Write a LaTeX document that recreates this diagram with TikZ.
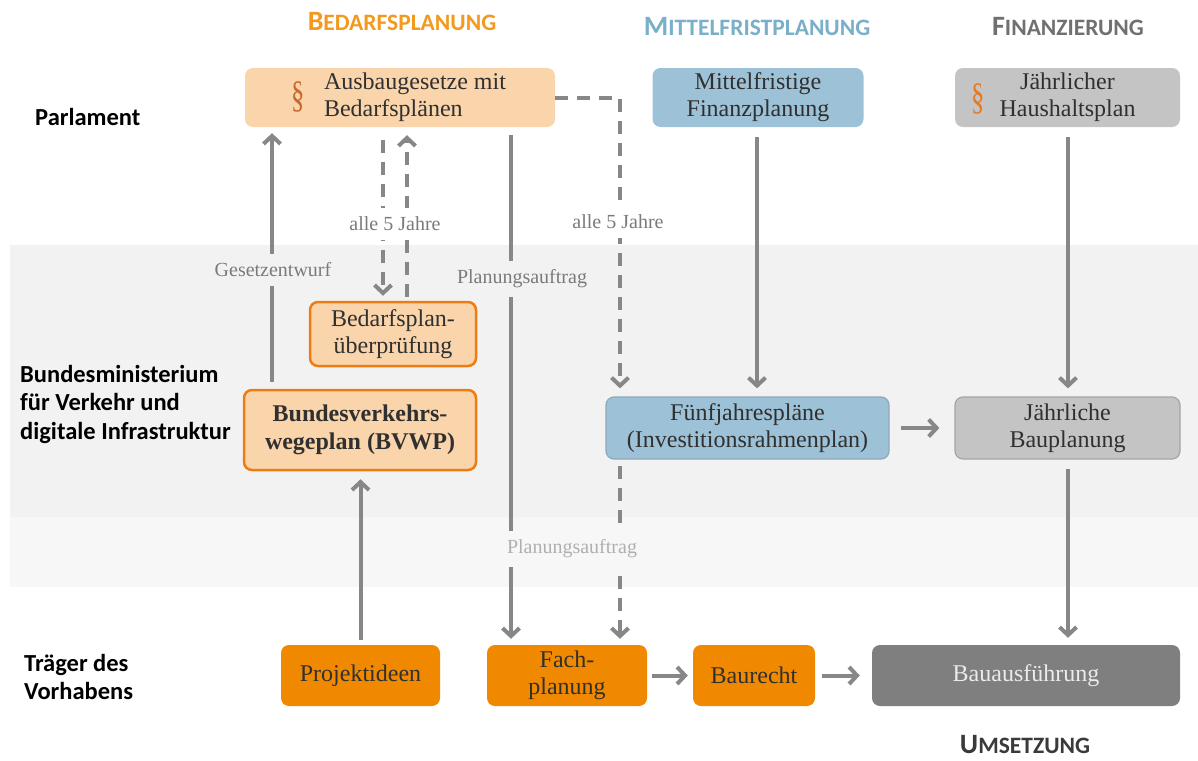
\documentclass[tikz,border=0pt]{standalone}
\usepackage{fontspec}
\setmainfont{Liberation Serif}
\newfontfamily\sansf{Carlito}
\usetikzlibrary{arrows.meta,calc}

\definecolor{lorange}{HTML}{FAD4AA}
\definecolor{orangeb}{HTML}{EE7D11}
\definecolor{orangef}{HTML}{F08800}
\definecolor{bluef}{HTML}{9DC1D6}
\definecolor{blueb}{HTML}{8FA9B8}
\definecolor{lgray}{HTML}{C4C4C4}
\definecolor{lgrayb}{HTML}{A5A5A5}
\definecolor{dgray}{HTML}{7F7F7F}
\definecolor{arr}{HTML}{878787}
\definecolor{bandA}{HTML}{F2F2F2}
\definecolor{bandB}{HTML}{F7F7F7}
\definecolor{txt}{HTML}{303030}
\definecolor{hOrange}{HTML}{F39A1E}
\definecolor{hBlue}{HTML}{79AFC9}
\definecolor{hGray}{HTML}{707070}
\definecolor{hDark}{HTML}{3A3A3A}
\definecolor{lbl}{HTML}{7A7A7A}
\definecolor{paraA}{HTML}{C46A2C}
\definecolor{paraB}{HTML}{E8781E}

\newcommand\hsc[2]{{\fontsize{28}{28}\selectfont #1}{\fontsize{23.5}{23.5}\selectfont #2}}

\tikzset{
  box/.style={rectangle, rounded corners=8pt, inner sep=0pt, align=center,
    text=txt, font=\fontsize{24}{27}\selectfont},
  conn/.style={draw=arr, line width=4pt, -{Straight Barb[length=8pt,width=17pt]}},
  dsh/.style={dash pattern=on 13pt off 9pt},
  lblnode/.style={inner xsep=2pt, inner ysep=9pt, text=lbl, font=\fontsize{20}{21}\selectfont},
  rowlab/.style={inner sep=0pt, align=left, text=black, font=\sansf\bfseries\fontsize{24.5}{28.5}\selectfont},
  hdr/.style={inner sep=0pt, font=\sansf\bfseries},
  para/.style={inner sep=0pt, font=\fontsize{38}{38}\selectfont}
}

\begin{document}
\begin{tikzpicture}[x=1pt,y=-1pt]
\useasboundingbox (0,0) rectangle (1198,760);
\fill[white] (0,0) rectangle (1198,760);
% bands
\fill[bandA] (10,245) rectangle (1198,517);
\fill[bandB] (10,517) rectangle (1198,587);

% headers
\node[hdr, text=hOrange] (h1) at (402,22) {\hsc{B}{EDARFSPLANUNG}};
\node[hdr, text=hBlue] (h2) at (757,27) {\hsc{M}{ITTELFRISTPLANUNG}};
\node[hdr, text=hGray] (h3) at (1068,27) {\hsc{F}{INANZIERUNG}};
\node[hdr, text=hDark] (h4) at (1025,745) {\hsc{U}{MSETZUNG}};

% row labels
\node[rowlab, anchor=west] (parl) at (35,117) {Parlament};
\node[rowlab, anchor=west] (bmv) at (20,404) {Bundesministerium\\für Verkehr und\\digitale Infrastruktur};
\node[rowlab, anchor=west] (trv) at (24,677) {Träger des\\Vorhabens};

% boxes
\node[box, fill=lorange, minimum width=310pt, minimum height=59pt] (ausbau) at (400,97.5)
  {\hspace*{30pt}\begin{tabular}{@{}l@{}}Ausbaugesetze mit\\Bedarfsplänen\end{tabular}};
\node[para, text=paraA] (p1) at (298,97) {\scalebox{0.7}[1]{§}};
\node[box, fill=bluef, minimum width=211pt, minimum height=59pt] (mittel) at (758,97.5)
  {Mittelfristige\\Finanzplanung};
\node[box, fill=lgray, minimum width=225pt, minimum height=59pt] (haus) at (1067.5,97.5)
  {Jährlicher\\Haushaltsplan};
\node[para, text=paraB] (p2) at (978,99) {\scalebox{0.7}[1]{§}};

\node[box, fill=lorange, draw=orangeb, line width=2.5pt, minimum width=166pt, minimum height=64pt] (bpu) at (393,334)
  {Bedarfsplan-\\überprüfung};
\node[box, fill=lorange, draw=orangeb, line width=2.5pt, minimum width=232pt, minimum height=80pt,
  font=\bfseries\fontsize{24}{28}\selectfont] (bvwp) at (360,430)
  {Bundesverkehrs-\\wegeplan (BVWP)};
\node[box, fill=bluef, draw=blueb, line width=1.2pt, minimum width=283pt, minimum height=62pt] (fuenf) at (747.5,428)
  {Fünfjahrespläne\\(Investitionsrahmenplan)};
\node[box, fill=lgray, draw=lgrayb, line width=1.2pt, minimum width=225pt, minimum height=62pt] (baupl) at (1067.5,428)
  {Jährliche\\Bauplanung};

\node[box, fill=orangef, minimum width=159pt, minimum height=61pt] (proj) at (360.5,675.5) {Projektideen};
\node[box, fill=orangef, minimum width=160pt, minimum height=61pt] (fach) at (567,675.5) {Fach-\\planung};
\node[box, fill=orangef, minimum width=122pt, minimum height=61pt] (baur) at (754,675.5) {Baurecht};
\node[box, fill=dgray, text=white!92!black, minimum width=308pt, minimum height=61pt] (bauaus) at (1026,675.5) {Bauausführung};

% x positions of vertical connectors
\coordinate (xg) at (272,0);
\coordinate (xd1) at (383,0);
\coordinate (xd2) at (407,0);
\coordinate (xp) at (511,0);
\coordinate (xd3) at (620,0);
\coordinate (xm) at (757,0);
\coordinate (xh) at (1068,0);

% connectors
\draw[conn, shorten <=7pt, shorten >=6pt] (bvwp.north -| xg) -- (ausbau.south -| xg);
\draw[conn, dsh, shorten <=13pt, shorten >=5pt] (ausbau.south -| xd1) -- (bpu.north -| xd1);
\draw[conn, dsh, shorten <=4pt, shorten >=8pt] (bpu.north -| xd2) -- (ausbau.south -| xd2);
\draw[conn, shorten <=8pt, shorten >=6pt] (ausbau.south -| xp) -- (fach.north -| xp);
\draw[conn, dsh, shorten >=8pt] (ausbau.east) -| (fuenf.north -| xd3);
\draw[conn, dsh, shorten <=6pt, shorten >=6pt] (fuenf.south -| xd3) -- (fach.north -| xd3);
\draw[conn, shorten <=10pt, shorten >=8pt] (mittel.south -| xm) -- (fuenf.north -| xm);
\draw[conn, shorten <=10pt, shorten >=8pt] (haus.south -| xh) -- (baupl.north -| xh);
\draw[conn, shorten <=9pt, shorten >=7pt] (baupl.south -| xh) -- (bauaus.north -| xh);
\draw[conn, shorten <=5pt, shorten >=8pt] (proj.north) -- (bvwp.south -| proj.north);
\draw[conn, shorten <=11pt, shorten >=15pt] (fuenf.east) -- (baupl.west);
\draw[conn, shorten <=5pt, shorten >=5pt] (fach.east) -- (baur.west);
\draw[conn, shorten <=7pt, shorten >=12pt] (baur.east) -- (bauaus.west);

% connector labels
\node[lblnode, fill=bandA] (lg) at (273,270) {Gesetzentwurf};
\node[lblnode, fill=white] (la1) at (395,224) {alle 5 Jahre};
\node[lblnode, fill=white] (la2) at (618,222) {alle 5 Jahre};
\node[lblnode, fill=bandA] (lp1) at (522,279) {Planungsauftrag};
\node[lblnode, fill=bandB, text=lbl!60!white] (lp2) at (572,549) {Planungsauftrag};
\end{tikzpicture}
\end{document}
